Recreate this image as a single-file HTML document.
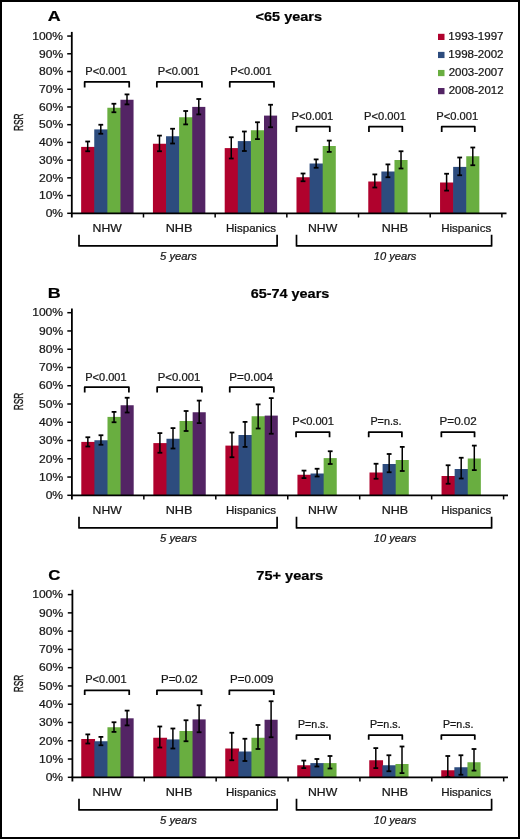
<!DOCTYPE html>
<html><head><meta charset="utf-8"><style>
html,body{margin:0;padding:0;background:#fff;}
body{width:520px;height:839px;overflow:hidden;}
.frame{position:absolute;left:0;top:0;width:516px;height:835px;border:2px solid #000;background:#fff;}
svg{position:absolute;left:0;top:0;will-change:transform;}
text{font-family:"Liberation Sans",sans-serif;}
</style></head><body>
<div class="frame"></div>
<svg width="520" height="839" viewBox="0 0 520 839">
<text transform="translate(47.85,20.80) scale(1.280,1)" font-size="14" font-weight="bold" font-style="normal" fill="#000" stroke="#000" stroke-width="0.195">A</text>
<text transform="translate(255.62,21.20) scale(1.187,1)" font-size="12.2" font-weight="bold" font-style="normal" fill="#000" stroke="#000" stroke-width="0.211">&lt;65 years</text>
<rect x="81.15" y="146.90" width="13.80" height="66.40" fill="#B0022D"/>
<rect x="94.25" y="129.40" width="13.80" height="83.90" fill="#2D4C7E"/>
<rect x="107.35" y="107.75" width="13.80" height="105.55" fill="#69AE40"/>
<rect x="120.45" y="99.75" width="13.10" height="113.55" fill="#532464"/>
<rect x="152.93" y="143.75" width="13.80" height="69.55" fill="#B0022D"/>
<rect x="166.03" y="136.25" width="13.80" height="77.05" fill="#2D4C7E"/>
<rect x="179.13" y="117.25" width="13.80" height="96.05" fill="#69AE40"/>
<rect x="192.23" y="106.90" width="13.10" height="106.40" fill="#532464"/>
<rect x="224.71" y="148.10" width="13.80" height="65.20" fill="#B0022D"/>
<rect x="237.81" y="141.10" width="13.80" height="72.20" fill="#2D4C7E"/>
<rect x="250.91" y="130.25" width="13.80" height="83.05" fill="#69AE40"/>
<rect x="264.01" y="115.60" width="13.10" height="97.70" fill="#532464"/>
<rect x="296.49" y="177.25" width="13.80" height="36.05" fill="#B0022D"/>
<rect x="309.59" y="163.50" width="13.80" height="49.80" fill="#2D4C7E"/>
<rect x="322.69" y="146.00" width="13.10" height="67.30" fill="#69AE40"/>
<rect x="368.27" y="181.50" width="13.80" height="31.80" fill="#B0022D"/>
<rect x="381.37" y="171.50" width="13.80" height="41.80" fill="#2D4C7E"/>
<rect x="394.47" y="160.00" width="13.10" height="53.30" fill="#69AE40"/>
<rect x="440.05" y="182.50" width="13.80" height="30.80" fill="#B0022D"/>
<rect x="453.15" y="166.90" width="13.80" height="46.40" fill="#2D4C7E"/>
<rect x="466.25" y="156.25" width="13.10" height="57.05" fill="#69AE40"/>
<line x1="87.70" y1="141.50" x2="87.70" y2="151.25" stroke="#000" stroke-width="1.5"/>
<line x1="85.30" y1="141.50" x2="90.10" y2="141.50" stroke="#000" stroke-width="1.8"/>
<line x1="85.30" y1="151.25" x2="90.10" y2="151.25" stroke="#000" stroke-width="1.8"/>
<line x1="100.80" y1="124.75" x2="100.80" y2="133.75" stroke="#000" stroke-width="1.5"/>
<line x1="98.40" y1="124.75" x2="103.20" y2="124.75" stroke="#000" stroke-width="1.8"/>
<line x1="98.40" y1="133.75" x2="103.20" y2="133.75" stroke="#000" stroke-width="1.8"/>
<line x1="113.90" y1="103.75" x2="113.90" y2="112.25" stroke="#000" stroke-width="1.5"/>
<line x1="111.50" y1="103.75" x2="116.30" y2="103.75" stroke="#000" stroke-width="1.8"/>
<line x1="111.50" y1="112.25" x2="116.30" y2="112.25" stroke="#000" stroke-width="1.8"/>
<line x1="127.00" y1="94.40" x2="127.00" y2="104.40" stroke="#000" stroke-width="1.5"/>
<line x1="124.60" y1="94.40" x2="129.40" y2="94.40" stroke="#000" stroke-width="1.8"/>
<line x1="124.60" y1="104.40" x2="129.40" y2="104.40" stroke="#000" stroke-width="1.8"/>
<line x1="159.48" y1="135.60" x2="159.48" y2="151.25" stroke="#000" stroke-width="1.5"/>
<line x1="157.08" y1="135.60" x2="161.88" y2="135.60" stroke="#000" stroke-width="1.8"/>
<line x1="157.08" y1="151.25" x2="161.88" y2="151.25" stroke="#000" stroke-width="1.8"/>
<line x1="172.58" y1="128.75" x2="172.58" y2="143.50" stroke="#000" stroke-width="1.5"/>
<line x1="170.18" y1="128.75" x2="174.98" y2="128.75" stroke="#000" stroke-width="1.8"/>
<line x1="170.18" y1="143.50" x2="174.98" y2="143.50" stroke="#000" stroke-width="1.8"/>
<line x1="185.68" y1="111.00" x2="185.68" y2="124.40" stroke="#000" stroke-width="1.5"/>
<line x1="183.28" y1="111.00" x2="188.08" y2="111.00" stroke="#000" stroke-width="1.8"/>
<line x1="183.28" y1="124.40" x2="188.08" y2="124.40" stroke="#000" stroke-width="1.8"/>
<line x1="198.78" y1="99.00" x2="198.78" y2="114.40" stroke="#000" stroke-width="1.5"/>
<line x1="196.38" y1="99.00" x2="201.18" y2="99.00" stroke="#000" stroke-width="1.8"/>
<line x1="196.38" y1="114.40" x2="201.18" y2="114.40" stroke="#000" stroke-width="1.8"/>
<line x1="231.26" y1="137.25" x2="231.26" y2="158.50" stroke="#000" stroke-width="1.5"/>
<line x1="228.86" y1="137.25" x2="233.66" y2="137.25" stroke="#000" stroke-width="1.8"/>
<line x1="228.86" y1="158.50" x2="233.66" y2="158.50" stroke="#000" stroke-width="1.8"/>
<line x1="244.36" y1="131.50" x2="244.36" y2="151.00" stroke="#000" stroke-width="1.5"/>
<line x1="241.96" y1="131.50" x2="246.76" y2="131.50" stroke="#000" stroke-width="1.8"/>
<line x1="241.96" y1="151.00" x2="246.76" y2="151.00" stroke="#000" stroke-width="1.8"/>
<line x1="257.46" y1="122.25" x2="257.46" y2="139.10" stroke="#000" stroke-width="1.5"/>
<line x1="255.06" y1="122.25" x2="259.86" y2="122.25" stroke="#000" stroke-width="1.8"/>
<line x1="255.06" y1="139.10" x2="259.86" y2="139.10" stroke="#000" stroke-width="1.8"/>
<line x1="270.56" y1="104.75" x2="270.56" y2="127.25" stroke="#000" stroke-width="1.5"/>
<line x1="268.16" y1="104.75" x2="272.96" y2="104.75" stroke="#000" stroke-width="1.8"/>
<line x1="268.16" y1="127.25" x2="272.96" y2="127.25" stroke="#000" stroke-width="1.8"/>
<line x1="303.04" y1="173.50" x2="303.04" y2="181.25" stroke="#000" stroke-width="1.5"/>
<line x1="300.64" y1="173.50" x2="305.44" y2="173.50" stroke="#000" stroke-width="1.8"/>
<line x1="300.64" y1="181.25" x2="305.44" y2="181.25" stroke="#000" stroke-width="1.8"/>
<line x1="316.14" y1="159.40" x2="316.14" y2="167.75" stroke="#000" stroke-width="1.5"/>
<line x1="313.74" y1="159.40" x2="318.54" y2="159.40" stroke="#000" stroke-width="1.8"/>
<line x1="313.74" y1="167.75" x2="318.54" y2="167.75" stroke="#000" stroke-width="1.8"/>
<line x1="329.24" y1="140.60" x2="329.24" y2="151.90" stroke="#000" stroke-width="1.5"/>
<line x1="326.84" y1="140.60" x2="331.64" y2="140.60" stroke="#000" stroke-width="1.8"/>
<line x1="326.84" y1="151.90" x2="331.64" y2="151.90" stroke="#000" stroke-width="1.8"/>
<line x1="374.82" y1="174.40" x2="374.82" y2="187.50" stroke="#000" stroke-width="1.5"/>
<line x1="372.42" y1="174.40" x2="377.22" y2="174.40" stroke="#000" stroke-width="1.8"/>
<line x1="372.42" y1="187.50" x2="377.22" y2="187.50" stroke="#000" stroke-width="1.8"/>
<line x1="387.92" y1="164.40" x2="387.92" y2="177.25" stroke="#000" stroke-width="1.5"/>
<line x1="385.52" y1="164.40" x2="390.32" y2="164.40" stroke="#000" stroke-width="1.8"/>
<line x1="385.52" y1="177.25" x2="390.32" y2="177.25" stroke="#000" stroke-width="1.8"/>
<line x1="401.02" y1="151.25" x2="401.02" y2="168.50" stroke="#000" stroke-width="1.5"/>
<line x1="398.62" y1="151.25" x2="403.42" y2="151.25" stroke="#000" stroke-width="1.8"/>
<line x1="398.62" y1="168.50" x2="403.42" y2="168.50" stroke="#000" stroke-width="1.8"/>
<line x1="446.60" y1="173.75" x2="446.60" y2="190.60" stroke="#000" stroke-width="1.5"/>
<line x1="444.20" y1="173.75" x2="449.00" y2="173.75" stroke="#000" stroke-width="1.8"/>
<line x1="444.20" y1="190.60" x2="449.00" y2="190.60" stroke="#000" stroke-width="1.8"/>
<line x1="459.70" y1="157.50" x2="459.70" y2="175.25" stroke="#000" stroke-width="1.5"/>
<line x1="457.30" y1="157.50" x2="462.10" y2="157.50" stroke="#000" stroke-width="1.8"/>
<line x1="457.30" y1="175.25" x2="462.10" y2="175.25" stroke="#000" stroke-width="1.8"/>
<line x1="472.80" y1="147.50" x2="472.80" y2="165.25" stroke="#000" stroke-width="1.5"/>
<line x1="470.40" y1="147.50" x2="475.20" y2="147.50" stroke="#000" stroke-width="1.8"/>
<line x1="470.40" y1="165.25" x2="475.20" y2="165.25" stroke="#000" stroke-width="1.8"/>
<line x1="71.80" y1="31.90" x2="71.80" y2="217.50" stroke="#000" stroke-width="1.8"/>
<line x1="70.90" y1="213.30" x2="506.50" y2="213.30" stroke="#000" stroke-width="1.8"/>
<line x1="67.20" y1="213.30" x2="71.80" y2="213.30" stroke="#000" stroke-width="1.5"/>
<text transform="translate(45.67,217.05) scale(1.150,1)" font-size="10.5" font-weight="normal" font-style="normal" fill="#161616" stroke="#161616" stroke-width="0.217">0%</text>
<line x1="67.20" y1="195.58" x2="71.80" y2="195.58" stroke="#000" stroke-width="1.5"/>
<text transform="translate(38.97,199.33) scale(1.150,1)" font-size="10.5" font-weight="normal" font-style="normal" fill="#161616" stroke="#161616" stroke-width="0.217">10%</text>
<line x1="67.20" y1="177.85" x2="71.80" y2="177.85" stroke="#000" stroke-width="1.5"/>
<text transform="translate(38.97,181.60) scale(1.150,1)" font-size="10.5" font-weight="normal" font-style="normal" fill="#161616" stroke="#161616" stroke-width="0.217">20%</text>
<line x1="67.20" y1="160.13" x2="71.80" y2="160.13" stroke="#000" stroke-width="1.5"/>
<text transform="translate(38.97,163.88) scale(1.150,1)" font-size="10.5" font-weight="normal" font-style="normal" fill="#161616" stroke="#161616" stroke-width="0.217">30%</text>
<line x1="67.20" y1="142.40" x2="71.80" y2="142.40" stroke="#000" stroke-width="1.5"/>
<text transform="translate(38.97,146.15) scale(1.150,1)" font-size="10.5" font-weight="normal" font-style="normal" fill="#161616" stroke="#161616" stroke-width="0.217">40%</text>
<line x1="67.20" y1="124.68" x2="71.80" y2="124.68" stroke="#000" stroke-width="1.5"/>
<text transform="translate(38.97,128.43) scale(1.150,1)" font-size="10.5" font-weight="normal" font-style="normal" fill="#161616" stroke="#161616" stroke-width="0.217">50%</text>
<line x1="67.20" y1="106.96" x2="71.80" y2="106.96" stroke="#000" stroke-width="1.5"/>
<text transform="translate(38.97,110.71) scale(1.150,1)" font-size="10.5" font-weight="normal" font-style="normal" fill="#161616" stroke="#161616" stroke-width="0.217">60%</text>
<line x1="67.20" y1="89.23" x2="71.80" y2="89.23" stroke="#000" stroke-width="1.5"/>
<text transform="translate(38.97,92.98) scale(1.150,1)" font-size="10.5" font-weight="normal" font-style="normal" fill="#161616" stroke="#161616" stroke-width="0.217">70%</text>
<line x1="67.20" y1="71.51" x2="71.80" y2="71.51" stroke="#000" stroke-width="1.5"/>
<text transform="translate(38.97,75.26) scale(1.150,1)" font-size="10.5" font-weight="normal" font-style="normal" fill="#161616" stroke="#161616" stroke-width="0.217">80%</text>
<line x1="67.20" y1="53.78" x2="71.80" y2="53.78" stroke="#000" stroke-width="1.5"/>
<text transform="translate(38.97,57.53) scale(1.150,1)" font-size="10.5" font-weight="normal" font-style="normal" fill="#161616" stroke="#161616" stroke-width="0.217">90%</text>
<line x1="67.20" y1="36.06" x2="71.80" y2="36.06" stroke="#000" stroke-width="1.5"/>
<text transform="translate(32.21,39.81) scale(1.150,1)" font-size="10.5" font-weight="normal" font-style="normal" fill="#161616" stroke="#161616" stroke-width="0.217">100%</text>
<line x1="143.48" y1="213.30" x2="143.48" y2="217.50" stroke="#000" stroke-width="1.5"/>
<line x1="215.16" y1="213.30" x2="215.16" y2="217.50" stroke="#000" stroke-width="1.5"/>
<line x1="286.84" y1="213.30" x2="286.84" y2="217.50" stroke="#000" stroke-width="1.5"/>
<line x1="358.52" y1="213.30" x2="358.52" y2="217.50" stroke="#000" stroke-width="1.5"/>
<line x1="430.20" y1="213.30" x2="430.20" y2="217.50" stroke="#000" stroke-width="1.5"/>
<line x1="501.88" y1="213.30" x2="501.88" y2="217.50" stroke="#000" stroke-width="1.5"/>
<text transform="translate(23.3,122.30) rotate(-90) scale(0.63,1)" font-size="13.2" text-anchor="middle" fill="#161616" stroke="#161616" stroke-width="0.4">RSR</text>
<text transform="translate(92.62,231.90) scale(1.163,1)" font-size="10.5" font-weight="normal" font-style="normal" fill="#161616" stroke="#161616" stroke-width="0.215">NHW</text>
<text transform="translate(165.69,231.90) scale(1.207,1)" font-size="10.5" font-weight="normal" font-style="normal" fill="#161616" stroke="#161616" stroke-width="0.207">NHB</text>
<text transform="translate(225.97,231.90) scale(1.104,1)" font-size="10.5" font-weight="normal" font-style="normal" fill="#161616" stroke="#161616" stroke-width="0.227">Hispanics</text>
<text transform="translate(308.02,231.90) scale(1.167,1)" font-size="10.5" font-weight="normal" font-style="normal" fill="#161616" stroke="#161616" stroke-width="0.214">NHW</text>
<text transform="translate(381.80,231.90) scale(1.188,1)" font-size="10.5" font-weight="normal" font-style="normal" fill="#161616" stroke="#161616" stroke-width="0.210">NHB</text>
<text transform="translate(441.17,231.90) scale(1.101,1)" font-size="10.5" font-weight="normal" font-style="normal" fill="#161616" stroke="#161616" stroke-width="0.227">Hispanics</text>
<path d="M79,234.70 V245.90 H277.1 V234.70" fill="none" stroke="#000" stroke-width="1.7" stroke-linejoin="round"/>
<path d="M296.5,234.70 V245.90 H491.6 V234.70" fill="none" stroke="#000" stroke-width="1.7" stroke-linejoin="round"/>
<text transform="translate(160.08,260.30) scale(1.067,1)" font-size="10.5" font-weight="normal" font-style="italic" fill="#161616" stroke="#161616" stroke-width="0.234">5 years</text>
<text transform="translate(373.82,260.40) scale(1.060,1)" font-size="10.5" font-weight="normal" font-style="italic" fill="#161616" stroke="#161616" stroke-width="0.236">10 years</text>
<text transform="translate(85.32,74.80) scale(1.074,1)" font-size="10.3" font-weight="normal" font-style="normal" fill="#161616" stroke="#161616" stroke-width="0.233">P&lt;0.001</text>
<path d="M84.65,87.40 V81.90 H129.20 V87.40" fill="none" stroke="#000" stroke-width="1.75" stroke-linejoin="round"/>
<text transform="translate(157.71,74.80) scale(1.082,1)" font-size="10.3" font-weight="normal" font-style="normal" fill="#161616" stroke="#161616" stroke-width="0.231">P&lt;0.001</text>
<path d="M156.85,87.40 V81.90 H201.90 V87.40" fill="none" stroke="#000" stroke-width="1.75" stroke-linejoin="round"/>
<text transform="translate(230.27,74.80) scale(1.071,1)" font-size="10.3" font-weight="normal" font-style="normal" fill="#161616" stroke="#161616" stroke-width="0.233">P&lt;0.001</text>
<path d="M229.75,87.40 V81.90 H274.00 V87.40" fill="none" stroke="#000" stroke-width="1.75" stroke-linejoin="round"/>
<text transform="translate(291.51,120.00) scale(1.082,1)" font-size="10.3" font-weight="normal" font-style="normal" fill="#161616" stroke="#161616" stroke-width="0.231">P&lt;0.001</text>
<path d="M296.45,132.00 V126.70 H329.80 V132.00" fill="none" stroke="#000" stroke-width="1.75" stroke-linejoin="round"/>
<text transform="translate(364.11,120.00) scale(1.082,1)" font-size="10.3" font-weight="normal" font-style="normal" fill="#161616" stroke="#161616" stroke-width="0.231">P&lt;0.001</text>
<path d="M368.95,132.00 V126.70 H402.30 V132.00" fill="none" stroke="#000" stroke-width="1.75" stroke-linejoin="round"/>
<text transform="translate(436.31,120.00) scale(1.082,1)" font-size="10.3" font-weight="normal" font-style="normal" fill="#161616" stroke="#161616" stroke-width="0.231">P&lt;0.001</text>
<path d="M441.70,132.00 V126.70 H474.80 V132.00" fill="none" stroke="#000" stroke-width="1.75" stroke-linejoin="round"/>
<rect x="438.00" y="33.80" width="6.50" height="6.20" fill="#B0022D"/>
<text transform="translate(448.33,39.90) scale(1.100,1)" font-size="10.5" font-weight="normal" font-style="normal" fill="#161616" stroke="#161616" stroke-width="0.227">1993-1997</text>
<rect x="438.00" y="51.87" width="6.50" height="6.20" fill="#2D4C7E"/>
<text transform="translate(448.33,57.97) scale(1.100,1)" font-size="10.5" font-weight="normal" font-style="normal" fill="#161616" stroke="#161616" stroke-width="0.227">1998-2002</text>
<rect x="438.00" y="69.94" width="6.50" height="6.20" fill="#69AE40"/>
<text transform="translate(448.63,76.04) scale(1.094,1)" font-size="10.5" font-weight="normal" font-style="normal" fill="#161616" stroke="#161616" stroke-width="0.229">2003-2007</text>
<rect x="438.00" y="88.01" width="6.50" height="6.20" fill="#532464"/>
<text transform="translate(448.63,94.11) scale(1.094,1)" font-size="10.5" font-weight="normal" font-style="normal" fill="#161616" stroke="#161616" stroke-width="0.229">2008-2012</text>
<text transform="translate(47.84,298.30) scale(1.278,1)" font-size="14" font-weight="bold" font-style="normal" fill="#000" stroke="#000" stroke-width="0.196">B</text>
<text transform="translate(250.64,297.70) scale(1.184,1)" font-size="12.2" font-weight="bold" font-style="normal" fill="#000" stroke="#000" stroke-width="0.211">65-74 years</text>
<rect x="81.30" y="441.90" width="13.80" height="53.40" fill="#B0022D"/>
<rect x="94.40" y="440.25" width="13.80" height="55.05" fill="#2D4C7E"/>
<rect x="107.50" y="416.90" width="13.80" height="78.40" fill="#69AE40"/>
<rect x="120.60" y="405.25" width="13.10" height="90.05" fill="#532464"/>
<rect x="153.35" y="443.10" width="13.80" height="52.20" fill="#B0022D"/>
<rect x="166.45" y="438.75" width="13.80" height="56.55" fill="#2D4C7E"/>
<rect x="179.55" y="421.00" width="13.80" height="74.30" fill="#69AE40"/>
<rect x="192.65" y="412.25" width="13.10" height="83.05" fill="#532464"/>
<rect x="225.40" y="445.60" width="13.80" height="49.70" fill="#B0022D"/>
<rect x="238.50" y="435.00" width="13.80" height="60.30" fill="#2D4C7E"/>
<rect x="251.60" y="416.25" width="13.80" height="79.05" fill="#69AE40"/>
<rect x="264.70" y="415.60" width="13.10" height="79.70" fill="#532464"/>
<rect x="297.45" y="474.75" width="13.80" height="20.55" fill="#B0022D"/>
<rect x="310.55" y="473.50" width="13.80" height="21.80" fill="#2D4C7E"/>
<rect x="323.65" y="458.10" width="13.10" height="37.20" fill="#69AE40"/>
<rect x="369.50" y="472.50" width="13.80" height="22.80" fill="#B0022D"/>
<rect x="382.60" y="464.00" width="13.80" height="31.30" fill="#2D4C7E"/>
<rect x="395.70" y="460.00" width="13.10" height="35.30" fill="#69AE40"/>
<rect x="441.55" y="476.00" width="13.80" height="19.30" fill="#B0022D"/>
<rect x="454.65" y="469.00" width="13.80" height="26.30" fill="#2D4C7E"/>
<rect x="467.75" y="458.50" width="13.10" height="36.80" fill="#69AE40"/>
<line x1="87.85" y1="437.25" x2="87.85" y2="446.50" stroke="#000" stroke-width="1.5"/>
<line x1="85.45" y1="437.25" x2="90.25" y2="437.25" stroke="#000" stroke-width="1.8"/>
<line x1="85.45" y1="446.50" x2="90.25" y2="446.50" stroke="#000" stroke-width="1.8"/>
<line x1="100.95" y1="435.25" x2="100.95" y2="444.75" stroke="#000" stroke-width="1.5"/>
<line x1="98.55" y1="435.25" x2="103.35" y2="435.25" stroke="#000" stroke-width="1.8"/>
<line x1="98.55" y1="444.75" x2="103.35" y2="444.75" stroke="#000" stroke-width="1.8"/>
<line x1="114.05" y1="411.90" x2="114.05" y2="422.25" stroke="#000" stroke-width="1.5"/>
<line x1="111.65" y1="411.90" x2="116.45" y2="411.90" stroke="#000" stroke-width="1.8"/>
<line x1="111.65" y1="422.25" x2="116.45" y2="422.25" stroke="#000" stroke-width="1.8"/>
<line x1="127.15" y1="397.75" x2="127.15" y2="412.50" stroke="#000" stroke-width="1.5"/>
<line x1="124.75" y1="397.75" x2="129.55" y2="397.75" stroke="#000" stroke-width="1.8"/>
<line x1="124.75" y1="412.50" x2="129.55" y2="412.50" stroke="#000" stroke-width="1.8"/>
<line x1="159.90" y1="433.10" x2="159.90" y2="452.75" stroke="#000" stroke-width="1.5"/>
<line x1="157.50" y1="433.10" x2="162.30" y2="433.10" stroke="#000" stroke-width="1.8"/>
<line x1="157.50" y1="452.75" x2="162.30" y2="452.75" stroke="#000" stroke-width="1.8"/>
<line x1="173.00" y1="428.10" x2="173.00" y2="448.50" stroke="#000" stroke-width="1.5"/>
<line x1="170.60" y1="428.10" x2="175.40" y2="428.10" stroke="#000" stroke-width="1.8"/>
<line x1="170.60" y1="448.50" x2="175.40" y2="448.50" stroke="#000" stroke-width="1.8"/>
<line x1="186.10" y1="411.00" x2="186.10" y2="431.00" stroke="#000" stroke-width="1.5"/>
<line x1="183.70" y1="411.00" x2="188.50" y2="411.00" stroke="#000" stroke-width="1.8"/>
<line x1="183.70" y1="431.00" x2="188.50" y2="431.00" stroke="#000" stroke-width="1.8"/>
<line x1="199.20" y1="400.60" x2="199.20" y2="423.10" stroke="#000" stroke-width="1.5"/>
<line x1="196.80" y1="400.60" x2="201.60" y2="400.60" stroke="#000" stroke-width="1.8"/>
<line x1="196.80" y1="423.10" x2="201.60" y2="423.10" stroke="#000" stroke-width="1.8"/>
<line x1="231.95" y1="432.50" x2="231.95" y2="457.25" stroke="#000" stroke-width="1.5"/>
<line x1="229.55" y1="432.50" x2="234.35" y2="432.50" stroke="#000" stroke-width="1.8"/>
<line x1="229.55" y1="457.25" x2="234.35" y2="457.25" stroke="#000" stroke-width="1.8"/>
<line x1="245.05" y1="421.90" x2="245.05" y2="446.90" stroke="#000" stroke-width="1.5"/>
<line x1="242.65" y1="421.90" x2="247.45" y2="421.90" stroke="#000" stroke-width="1.8"/>
<line x1="242.65" y1="446.90" x2="247.45" y2="446.90" stroke="#000" stroke-width="1.8"/>
<line x1="258.15" y1="404.40" x2="258.15" y2="428.50" stroke="#000" stroke-width="1.5"/>
<line x1="255.75" y1="404.40" x2="260.55" y2="404.40" stroke="#000" stroke-width="1.8"/>
<line x1="255.75" y1="428.50" x2="260.55" y2="428.50" stroke="#000" stroke-width="1.8"/>
<line x1="271.25" y1="398.10" x2="271.25" y2="433.75" stroke="#000" stroke-width="1.5"/>
<line x1="268.85" y1="398.10" x2="273.65" y2="398.10" stroke="#000" stroke-width="1.8"/>
<line x1="268.85" y1="433.75" x2="273.65" y2="433.75" stroke="#000" stroke-width="1.8"/>
<line x1="304.00" y1="470.60" x2="304.00" y2="478.10" stroke="#000" stroke-width="1.5"/>
<line x1="301.60" y1="470.60" x2="306.40" y2="470.60" stroke="#000" stroke-width="1.8"/>
<line x1="301.60" y1="478.10" x2="306.40" y2="478.10" stroke="#000" stroke-width="1.8"/>
<line x1="317.10" y1="468.75" x2="317.10" y2="476.50" stroke="#000" stroke-width="1.5"/>
<line x1="314.70" y1="468.75" x2="319.50" y2="468.75" stroke="#000" stroke-width="1.8"/>
<line x1="314.70" y1="476.50" x2="319.50" y2="476.50" stroke="#000" stroke-width="1.8"/>
<line x1="330.20" y1="451.25" x2="330.20" y2="464.00" stroke="#000" stroke-width="1.5"/>
<line x1="327.80" y1="451.25" x2="332.60" y2="451.25" stroke="#000" stroke-width="1.8"/>
<line x1="327.80" y1="464.00" x2="332.60" y2="464.00" stroke="#000" stroke-width="1.8"/>
<line x1="376.05" y1="463.75" x2="376.05" y2="478.75" stroke="#000" stroke-width="1.5"/>
<line x1="373.65" y1="463.75" x2="378.45" y2="463.75" stroke="#000" stroke-width="1.8"/>
<line x1="373.65" y1="478.75" x2="378.45" y2="478.75" stroke="#000" stroke-width="1.8"/>
<line x1="389.15" y1="454.00" x2="389.15" y2="472.25" stroke="#000" stroke-width="1.5"/>
<line x1="386.75" y1="454.00" x2="391.55" y2="454.00" stroke="#000" stroke-width="1.8"/>
<line x1="386.75" y1="472.25" x2="391.55" y2="472.25" stroke="#000" stroke-width="1.8"/>
<line x1="402.25" y1="446.90" x2="402.25" y2="471.00" stroke="#000" stroke-width="1.5"/>
<line x1="399.85" y1="446.90" x2="404.65" y2="446.90" stroke="#000" stroke-width="1.8"/>
<line x1="399.85" y1="471.00" x2="404.65" y2="471.00" stroke="#000" stroke-width="1.8"/>
<line x1="448.10" y1="465.25" x2="448.10" y2="483.75" stroke="#000" stroke-width="1.5"/>
<line x1="445.70" y1="465.25" x2="450.50" y2="465.25" stroke="#000" stroke-width="1.8"/>
<line x1="445.70" y1="483.75" x2="450.50" y2="483.75" stroke="#000" stroke-width="1.8"/>
<line x1="461.20" y1="457.75" x2="461.20" y2="478.50" stroke="#000" stroke-width="1.5"/>
<line x1="458.80" y1="457.75" x2="463.60" y2="457.75" stroke="#000" stroke-width="1.8"/>
<line x1="458.80" y1="478.50" x2="463.60" y2="478.50" stroke="#000" stroke-width="1.8"/>
<line x1="474.30" y1="445.60" x2="474.30" y2="470.10" stroke="#000" stroke-width="1.5"/>
<line x1="471.90" y1="445.60" x2="476.70" y2="445.60" stroke="#000" stroke-width="1.8"/>
<line x1="471.90" y1="470.10" x2="476.70" y2="470.10" stroke="#000" stroke-width="1.8"/>
<line x1="71.90" y1="308.50" x2="71.90" y2="499.50" stroke="#000" stroke-width="1.8"/>
<line x1="71.00" y1="495.30" x2="508.00" y2="495.30" stroke="#000" stroke-width="1.8"/>
<line x1="67.30" y1="495.30" x2="71.90" y2="495.30" stroke="#000" stroke-width="1.5"/>
<text transform="translate(45.67,499.05) scale(1.150,1)" font-size="10.5" font-weight="normal" font-style="normal" fill="#161616" stroke="#161616" stroke-width="0.217">0%</text>
<line x1="67.30" y1="477.04" x2="71.90" y2="477.04" stroke="#000" stroke-width="1.5"/>
<text transform="translate(38.97,480.79) scale(1.150,1)" font-size="10.5" font-weight="normal" font-style="normal" fill="#161616" stroke="#161616" stroke-width="0.217">10%</text>
<line x1="67.30" y1="458.78" x2="71.90" y2="458.78" stroke="#000" stroke-width="1.5"/>
<text transform="translate(38.97,462.53) scale(1.150,1)" font-size="10.5" font-weight="normal" font-style="normal" fill="#161616" stroke="#161616" stroke-width="0.217">20%</text>
<line x1="67.30" y1="440.52" x2="71.90" y2="440.52" stroke="#000" stroke-width="1.5"/>
<text transform="translate(38.97,444.27) scale(1.150,1)" font-size="10.5" font-weight="normal" font-style="normal" fill="#161616" stroke="#161616" stroke-width="0.217">30%</text>
<line x1="67.30" y1="422.26" x2="71.90" y2="422.26" stroke="#000" stroke-width="1.5"/>
<text transform="translate(38.97,426.01) scale(1.150,1)" font-size="10.5" font-weight="normal" font-style="normal" fill="#161616" stroke="#161616" stroke-width="0.217">40%</text>
<line x1="67.30" y1="404.00" x2="71.90" y2="404.00" stroke="#000" stroke-width="1.5"/>
<text transform="translate(38.97,407.75) scale(1.150,1)" font-size="10.5" font-weight="normal" font-style="normal" fill="#161616" stroke="#161616" stroke-width="0.217">50%</text>
<line x1="67.30" y1="385.74" x2="71.90" y2="385.74" stroke="#000" stroke-width="1.5"/>
<text transform="translate(38.97,389.49) scale(1.150,1)" font-size="10.5" font-weight="normal" font-style="normal" fill="#161616" stroke="#161616" stroke-width="0.217">60%</text>
<line x1="67.30" y1="367.48" x2="71.90" y2="367.48" stroke="#000" stroke-width="1.5"/>
<text transform="translate(38.97,371.23) scale(1.150,1)" font-size="10.5" font-weight="normal" font-style="normal" fill="#161616" stroke="#161616" stroke-width="0.217">70%</text>
<line x1="67.30" y1="349.22" x2="71.90" y2="349.22" stroke="#000" stroke-width="1.5"/>
<text transform="translate(38.97,352.97) scale(1.150,1)" font-size="10.5" font-weight="normal" font-style="normal" fill="#161616" stroke="#161616" stroke-width="0.217">80%</text>
<line x1="67.30" y1="330.96" x2="71.90" y2="330.96" stroke="#000" stroke-width="1.5"/>
<text transform="translate(38.97,334.71) scale(1.150,1)" font-size="10.5" font-weight="normal" font-style="normal" fill="#161616" stroke="#161616" stroke-width="0.217">90%</text>
<line x1="67.30" y1="312.70" x2="71.90" y2="312.70" stroke="#000" stroke-width="1.5"/>
<text transform="translate(32.21,316.45) scale(1.150,1)" font-size="10.5" font-weight="normal" font-style="normal" fill="#161616" stroke="#161616" stroke-width="0.217">100%</text>
<line x1="143.85" y1="495.30" x2="143.85" y2="499.50" stroke="#000" stroke-width="1.5"/>
<line x1="215.80" y1="495.30" x2="215.80" y2="499.50" stroke="#000" stroke-width="1.5"/>
<line x1="287.75" y1="495.30" x2="287.75" y2="499.50" stroke="#000" stroke-width="1.5"/>
<line x1="359.70" y1="495.30" x2="359.70" y2="499.50" stroke="#000" stroke-width="1.5"/>
<line x1="431.65" y1="495.30" x2="431.65" y2="499.50" stroke="#000" stroke-width="1.5"/>
<line x1="503.60" y1="495.30" x2="503.60" y2="499.50" stroke="#000" stroke-width="1.5"/>
<text transform="translate(23.3,401.50) rotate(-90) scale(0.63,1)" font-size="13.2" text-anchor="middle" fill="#161616" stroke="#161616" stroke-width="0.4">RSR</text>
<text transform="translate(92.62,513.90) scale(1.163,1)" font-size="10.5" font-weight="normal" font-style="normal" fill="#161616" stroke="#161616" stroke-width="0.215">NHW</text>
<text transform="translate(165.69,513.90) scale(1.207,1)" font-size="10.5" font-weight="normal" font-style="normal" fill="#161616" stroke="#161616" stroke-width="0.207">NHB</text>
<text transform="translate(225.97,513.90) scale(1.104,1)" font-size="10.5" font-weight="normal" font-style="normal" fill="#161616" stroke="#161616" stroke-width="0.227">Hispanics</text>
<text transform="translate(308.02,513.90) scale(1.167,1)" font-size="10.5" font-weight="normal" font-style="normal" fill="#161616" stroke="#161616" stroke-width="0.214">NHW</text>
<text transform="translate(381.80,513.90) scale(1.188,1)" font-size="10.5" font-weight="normal" font-style="normal" fill="#161616" stroke="#161616" stroke-width="0.210">NHB</text>
<text transform="translate(441.17,513.90) scale(1.101,1)" font-size="10.5" font-weight="normal" font-style="normal" fill="#161616" stroke="#161616" stroke-width="0.227">Hispanics</text>
<path d="M79,516.70 V527.90 H277.1 V516.70" fill="none" stroke="#000" stroke-width="1.7" stroke-linejoin="round"/>
<path d="M296.5,516.70 V527.90 H491.6 V516.70" fill="none" stroke="#000" stroke-width="1.7" stroke-linejoin="round"/>
<text transform="translate(160.08,542.30) scale(1.067,1)" font-size="10.5" font-weight="normal" font-style="italic" fill="#161616" stroke="#161616" stroke-width="0.234">5 years</text>
<text transform="translate(373.82,542.40) scale(1.060,1)" font-size="10.5" font-weight="normal" font-style="italic" fill="#161616" stroke="#161616" stroke-width="0.236">10 years</text>
<text transform="translate(85.22,381.00) scale(1.071,1)" font-size="10.3" font-weight="normal" font-style="normal" fill="#161616" stroke="#161616" stroke-width="0.233">P&lt;0.001</text>
<path d="M84.70,392.40 V387.00 H128.90 V392.40" fill="none" stroke="#000" stroke-width="1.75" stroke-linejoin="round"/>
<text transform="translate(157.69,381.00) scale(1.106,1)" font-size="10.3" font-weight="normal" font-style="normal" fill="#161616" stroke="#161616" stroke-width="0.226">P&lt;0.001</text>
<path d="M157.15,392.40 V387.00 H201.90 V392.40" fill="none" stroke="#000" stroke-width="1.75" stroke-linejoin="round"/>
<text transform="translate(229.37,381.00) scale(1.127,1)" font-size="10.3" font-weight="normal" font-style="normal" fill="#161616" stroke="#161616" stroke-width="0.222">P=0.004</text>
<path d="M229.75,392.40 V387.00 H273.90 V392.40" fill="none" stroke="#000" stroke-width="1.75" stroke-linejoin="round"/>
<text transform="translate(292.21,425.00) scale(1.082,1)" font-size="10.3" font-weight="normal" font-style="normal" fill="#161616" stroke="#161616" stroke-width="0.231">P&lt;0.001</text>
<path d="M296.05,437.30 V432.00 H329.55 V437.30" fill="none" stroke="#000" stroke-width="1.75" stroke-linejoin="round"/>
<text transform="translate(370.38,425.00) scale(1.054,1)" font-size="10.3" font-weight="normal" font-style="normal" fill="#161616" stroke="#161616" stroke-width="0.237">P=n.s.</text>
<path d="M368.70,437.30 V432.00 H401.90 V437.30" fill="none" stroke="#000" stroke-width="1.75" stroke-linejoin="round"/>
<text transform="translate(439.57,425.00) scale(1.131,1)" font-size="10.3" font-weight="normal" font-style="normal" fill="#161616" stroke="#161616" stroke-width="0.221">P=0.02</text>
<path d="M441.35,437.30 V432.00 H474.55 V437.30" fill="none" stroke="#000" stroke-width="1.75" stroke-linejoin="round"/>
<text transform="translate(48.33,580.20) scale(1.200,1)" font-size="14" font-weight="bold" font-style="normal" fill="#000" stroke="#000" stroke-width="0.208">C</text>
<text transform="translate(256.32,579.80) scale(1.196,1)" font-size="12.2" font-weight="bold" font-style="normal" fill="#000" stroke="#000" stroke-width="0.209">75+ years</text>
<rect x="81.25" y="739.00" width="13.80" height="38.30" fill="#B0022D"/>
<rect x="94.35" y="741.25" width="13.80" height="36.05" fill="#2D4C7E"/>
<rect x="107.45" y="727.25" width="13.80" height="50.05" fill="#69AE40"/>
<rect x="120.55" y="718.30" width="13.10" height="59.00" fill="#532464"/>
<rect x="153.25" y="737.75" width="13.80" height="39.55" fill="#B0022D"/>
<rect x="166.35" y="739.40" width="13.80" height="37.90" fill="#2D4C7E"/>
<rect x="179.45" y="731.00" width="13.80" height="46.30" fill="#69AE40"/>
<rect x="192.55" y="719.40" width="13.10" height="57.90" fill="#532464"/>
<rect x="225.25" y="748.50" width="13.80" height="28.80" fill="#B0022D"/>
<rect x="238.35" y="751.50" width="13.80" height="25.80" fill="#2D4C7E"/>
<rect x="251.45" y="737.75" width="13.80" height="39.55" fill="#69AE40"/>
<rect x="264.55" y="719.75" width="13.10" height="57.55" fill="#532464"/>
<rect x="297.25" y="765.25" width="13.80" height="12.05" fill="#B0022D"/>
<rect x="310.35" y="763.10" width="13.80" height="14.20" fill="#2D4C7E"/>
<rect x="323.45" y="763.10" width="13.10" height="14.20" fill="#69AE40"/>
<rect x="369.25" y="760.25" width="13.80" height="17.05" fill="#B0022D"/>
<rect x="382.35" y="765.25" width="13.80" height="12.05" fill="#2D4C7E"/>
<rect x="395.45" y="764.00" width="13.10" height="13.30" fill="#69AE40"/>
<rect x="441.25" y="770.25" width="13.80" height="7.05" fill="#B0022D"/>
<rect x="454.35" y="767.25" width="13.80" height="10.05" fill="#2D4C7E"/>
<rect x="467.45" y="762.25" width="13.10" height="15.05" fill="#69AE40"/>
<line x1="87.80" y1="734.40" x2="87.80" y2="743.50" stroke="#000" stroke-width="1.5"/>
<line x1="85.40" y1="734.40" x2="90.20" y2="734.40" stroke="#000" stroke-width="1.8"/>
<line x1="85.40" y1="743.50" x2="90.20" y2="743.50" stroke="#000" stroke-width="1.8"/>
<line x1="100.90" y1="736.90" x2="100.90" y2="745.25" stroke="#000" stroke-width="1.5"/>
<line x1="98.50" y1="736.90" x2="103.30" y2="736.90" stroke="#000" stroke-width="1.8"/>
<line x1="98.50" y1="745.25" x2="103.30" y2="745.25" stroke="#000" stroke-width="1.8"/>
<line x1="114.00" y1="722.25" x2="114.00" y2="731.90" stroke="#000" stroke-width="1.5"/>
<line x1="111.60" y1="722.25" x2="116.40" y2="722.25" stroke="#000" stroke-width="1.8"/>
<line x1="111.60" y1="731.90" x2="116.40" y2="731.90" stroke="#000" stroke-width="1.8"/>
<line x1="127.10" y1="710.60" x2="127.10" y2="725.40" stroke="#000" stroke-width="1.5"/>
<line x1="124.70" y1="710.60" x2="129.50" y2="710.60" stroke="#000" stroke-width="1.8"/>
<line x1="124.70" y1="725.40" x2="129.50" y2="725.40" stroke="#000" stroke-width="1.8"/>
<line x1="159.80" y1="726.50" x2="159.80" y2="747.50" stroke="#000" stroke-width="1.5"/>
<line x1="157.40" y1="726.50" x2="162.20" y2="726.50" stroke="#000" stroke-width="1.8"/>
<line x1="157.40" y1="747.50" x2="162.20" y2="747.50" stroke="#000" stroke-width="1.8"/>
<line x1="172.90" y1="728.50" x2="172.90" y2="748.50" stroke="#000" stroke-width="1.5"/>
<line x1="170.50" y1="728.50" x2="175.30" y2="728.50" stroke="#000" stroke-width="1.8"/>
<line x1="170.50" y1="748.50" x2="175.30" y2="748.50" stroke="#000" stroke-width="1.8"/>
<line x1="186.00" y1="720.25" x2="186.00" y2="741.25" stroke="#000" stroke-width="1.5"/>
<line x1="183.60" y1="720.25" x2="188.40" y2="720.25" stroke="#000" stroke-width="1.8"/>
<line x1="183.60" y1="741.25" x2="188.40" y2="741.25" stroke="#000" stroke-width="1.8"/>
<line x1="199.10" y1="705.25" x2="199.10" y2="732.25" stroke="#000" stroke-width="1.5"/>
<line x1="196.70" y1="705.25" x2="201.50" y2="705.25" stroke="#000" stroke-width="1.8"/>
<line x1="196.70" y1="732.25" x2="201.50" y2="732.25" stroke="#000" stroke-width="1.8"/>
<line x1="231.80" y1="732.75" x2="231.80" y2="760.25" stroke="#000" stroke-width="1.5"/>
<line x1="229.40" y1="732.75" x2="234.20" y2="732.75" stroke="#000" stroke-width="1.8"/>
<line x1="229.40" y1="760.25" x2="234.20" y2="760.25" stroke="#000" stroke-width="1.8"/>
<line x1="244.90" y1="738.75" x2="244.90" y2="761.00" stroke="#000" stroke-width="1.5"/>
<line x1="242.50" y1="738.75" x2="247.30" y2="738.75" stroke="#000" stroke-width="1.8"/>
<line x1="242.50" y1="761.00" x2="247.30" y2="761.00" stroke="#000" stroke-width="1.8"/>
<line x1="258.00" y1="725.00" x2="258.00" y2="749.00" stroke="#000" stroke-width="1.5"/>
<line x1="255.60" y1="725.00" x2="260.40" y2="725.00" stroke="#000" stroke-width="1.8"/>
<line x1="255.60" y1="749.00" x2="260.40" y2="749.00" stroke="#000" stroke-width="1.8"/>
<line x1="271.10" y1="701.25" x2="271.10" y2="737.25" stroke="#000" stroke-width="1.5"/>
<line x1="268.70" y1="701.25" x2="273.50" y2="701.25" stroke="#000" stroke-width="1.8"/>
<line x1="268.70" y1="737.25" x2="273.50" y2="737.25" stroke="#000" stroke-width="1.8"/>
<line x1="303.80" y1="760.60" x2="303.80" y2="768.10" stroke="#000" stroke-width="1.5"/>
<line x1="301.40" y1="760.60" x2="306.20" y2="760.60" stroke="#000" stroke-width="1.8"/>
<line x1="301.40" y1="768.10" x2="306.20" y2="768.10" stroke="#000" stroke-width="1.8"/>
<line x1="316.90" y1="759.00" x2="316.90" y2="766.50" stroke="#000" stroke-width="1.5"/>
<line x1="314.50" y1="759.00" x2="319.30" y2="759.00" stroke="#000" stroke-width="1.8"/>
<line x1="314.50" y1="766.50" x2="319.30" y2="766.50" stroke="#000" stroke-width="1.8"/>
<line x1="330.00" y1="756.00" x2="330.00" y2="768.50" stroke="#000" stroke-width="1.5"/>
<line x1="327.60" y1="756.00" x2="332.40" y2="756.00" stroke="#000" stroke-width="1.8"/>
<line x1="327.60" y1="768.50" x2="332.40" y2="768.50" stroke="#000" stroke-width="1.8"/>
<line x1="375.80" y1="748.10" x2="375.80" y2="768.10" stroke="#000" stroke-width="1.5"/>
<line x1="373.40" y1="748.10" x2="378.20" y2="748.10" stroke="#000" stroke-width="1.8"/>
<line x1="373.40" y1="768.10" x2="378.20" y2="768.10" stroke="#000" stroke-width="1.8"/>
<line x1="388.90" y1="755.25" x2="388.90" y2="771.25" stroke="#000" stroke-width="1.5"/>
<line x1="386.50" y1="755.25" x2="391.30" y2="755.25" stroke="#000" stroke-width="1.8"/>
<line x1="386.50" y1="771.25" x2="391.30" y2="771.25" stroke="#000" stroke-width="1.8"/>
<line x1="402.00" y1="746.50" x2="402.00" y2="773.10" stroke="#000" stroke-width="1.5"/>
<line x1="399.60" y1="746.50" x2="404.40" y2="746.50" stroke="#000" stroke-width="1.8"/>
<line x1="399.60" y1="773.10" x2="404.40" y2="773.10" stroke="#000" stroke-width="1.8"/>
<line x1="447.80" y1="756.00" x2="447.80" y2="777.00" stroke="#000" stroke-width="1.5"/>
<line x1="445.40" y1="756.00" x2="450.20" y2="756.00" stroke="#000" stroke-width="1.8"/>
<line x1="445.40" y1="777.00" x2="450.20" y2="777.00" stroke="#000" stroke-width="1.8"/>
<line x1="460.90" y1="755.25" x2="460.90" y2="774.75" stroke="#000" stroke-width="1.5"/>
<line x1="458.50" y1="755.25" x2="463.30" y2="755.25" stroke="#000" stroke-width="1.8"/>
<line x1="458.50" y1="774.75" x2="463.30" y2="774.75" stroke="#000" stroke-width="1.8"/>
<line x1="474.00" y1="749.00" x2="474.00" y2="770.60" stroke="#000" stroke-width="1.5"/>
<line x1="471.60" y1="749.00" x2="476.40" y2="749.00" stroke="#000" stroke-width="1.8"/>
<line x1="471.60" y1="770.60" x2="476.40" y2="770.60" stroke="#000" stroke-width="1.8"/>
<line x1="72.40" y1="589.80" x2="72.40" y2="781.50" stroke="#000" stroke-width="1.8"/>
<line x1="71.50" y1="777.30" x2="508.00" y2="777.30" stroke="#000" stroke-width="1.8"/>
<line x1="67.80" y1="777.30" x2="72.40" y2="777.30" stroke="#000" stroke-width="1.5"/>
<text transform="translate(45.67,781.05) scale(1.150,1)" font-size="10.5" font-weight="normal" font-style="normal" fill="#161616" stroke="#161616" stroke-width="0.217">0%</text>
<line x1="67.80" y1="759.03" x2="72.40" y2="759.03" stroke="#000" stroke-width="1.5"/>
<text transform="translate(38.97,762.78) scale(1.150,1)" font-size="10.5" font-weight="normal" font-style="normal" fill="#161616" stroke="#161616" stroke-width="0.217">10%</text>
<line x1="67.80" y1="740.76" x2="72.40" y2="740.76" stroke="#000" stroke-width="1.5"/>
<text transform="translate(38.97,744.51) scale(1.150,1)" font-size="10.5" font-weight="normal" font-style="normal" fill="#161616" stroke="#161616" stroke-width="0.217">20%</text>
<line x1="67.80" y1="722.49" x2="72.40" y2="722.49" stroke="#000" stroke-width="1.5"/>
<text transform="translate(38.97,726.24) scale(1.150,1)" font-size="10.5" font-weight="normal" font-style="normal" fill="#161616" stroke="#161616" stroke-width="0.217">30%</text>
<line x1="67.80" y1="704.22" x2="72.40" y2="704.22" stroke="#000" stroke-width="1.5"/>
<text transform="translate(38.97,707.97) scale(1.150,1)" font-size="10.5" font-weight="normal" font-style="normal" fill="#161616" stroke="#161616" stroke-width="0.217">40%</text>
<line x1="67.80" y1="685.95" x2="72.40" y2="685.95" stroke="#000" stroke-width="1.5"/>
<text transform="translate(38.97,689.70) scale(1.150,1)" font-size="10.5" font-weight="normal" font-style="normal" fill="#161616" stroke="#161616" stroke-width="0.217">50%</text>
<line x1="67.80" y1="667.68" x2="72.40" y2="667.68" stroke="#000" stroke-width="1.5"/>
<text transform="translate(38.97,671.43) scale(1.150,1)" font-size="10.5" font-weight="normal" font-style="normal" fill="#161616" stroke="#161616" stroke-width="0.217">60%</text>
<line x1="67.80" y1="649.41" x2="72.40" y2="649.41" stroke="#000" stroke-width="1.5"/>
<text transform="translate(38.97,653.16) scale(1.150,1)" font-size="10.5" font-weight="normal" font-style="normal" fill="#161616" stroke="#161616" stroke-width="0.217">70%</text>
<line x1="67.80" y1="631.14" x2="72.40" y2="631.14" stroke="#000" stroke-width="1.5"/>
<text transform="translate(38.97,634.89) scale(1.150,1)" font-size="10.5" font-weight="normal" font-style="normal" fill="#161616" stroke="#161616" stroke-width="0.217">80%</text>
<line x1="67.80" y1="612.87" x2="72.40" y2="612.87" stroke="#000" stroke-width="1.5"/>
<text transform="translate(38.97,616.62) scale(1.150,1)" font-size="10.5" font-weight="normal" font-style="normal" fill="#161616" stroke="#161616" stroke-width="0.217">90%</text>
<line x1="67.80" y1="594.60" x2="72.40" y2="594.60" stroke="#000" stroke-width="1.5"/>
<text transform="translate(32.21,598.35) scale(1.150,1)" font-size="10.5" font-weight="normal" font-style="normal" fill="#161616" stroke="#161616" stroke-width="0.217">100%</text>
<line x1="144.28" y1="777.30" x2="144.28" y2="781.50" stroke="#000" stroke-width="1.5"/>
<line x1="216.16" y1="777.30" x2="216.16" y2="781.50" stroke="#000" stroke-width="1.5"/>
<line x1="288.04" y1="777.30" x2="288.04" y2="781.50" stroke="#000" stroke-width="1.5"/>
<line x1="359.92" y1="777.30" x2="359.92" y2="781.50" stroke="#000" stroke-width="1.5"/>
<line x1="431.80" y1="777.30" x2="431.80" y2="781.50" stroke="#000" stroke-width="1.5"/>
<line x1="503.68" y1="777.30" x2="503.68" y2="781.50" stroke="#000" stroke-width="1.5"/>
<text transform="translate(23.3,683.60) rotate(-90) scale(0.63,1)" font-size="13.2" text-anchor="middle" fill="#161616" stroke="#161616" stroke-width="0.4">RSR</text>
<text transform="translate(92.62,795.90) scale(1.163,1)" font-size="10.5" font-weight="normal" font-style="normal" fill="#161616" stroke="#161616" stroke-width="0.215">NHW</text>
<text transform="translate(165.69,795.90) scale(1.207,1)" font-size="10.5" font-weight="normal" font-style="normal" fill="#161616" stroke="#161616" stroke-width="0.207">NHB</text>
<text transform="translate(225.97,795.90) scale(1.104,1)" font-size="10.5" font-weight="normal" font-style="normal" fill="#161616" stroke="#161616" stroke-width="0.227">Hispanics</text>
<text transform="translate(308.02,795.90) scale(1.167,1)" font-size="10.5" font-weight="normal" font-style="normal" fill="#161616" stroke="#161616" stroke-width="0.214">NHW</text>
<text transform="translate(381.80,795.90) scale(1.188,1)" font-size="10.5" font-weight="normal" font-style="normal" fill="#161616" stroke="#161616" stroke-width="0.210">NHB</text>
<text transform="translate(441.17,795.90) scale(1.101,1)" font-size="10.5" font-weight="normal" font-style="normal" fill="#161616" stroke="#161616" stroke-width="0.227">Hispanics</text>
<path d="M79,798.70 V809.90 H277.1 V798.70" fill="none" stroke="#000" stroke-width="1.7" stroke-linejoin="round"/>
<path d="M296.5,798.70 V809.90 H491.6 V798.70" fill="none" stroke="#000" stroke-width="1.7" stroke-linejoin="round"/>
<text transform="translate(160.08,824.30) scale(1.067,1)" font-size="10.5" font-weight="normal" font-style="italic" fill="#161616" stroke="#161616" stroke-width="0.234">5 years</text>
<text transform="translate(373.82,824.40) scale(1.060,1)" font-size="10.5" font-weight="normal" font-style="italic" fill="#161616" stroke="#161616" stroke-width="0.236">10 years</text>
<text transform="translate(85.22,683.25) scale(1.071,1)" font-size="10.3" font-weight="normal" font-style="normal" fill="#161616" stroke="#161616" stroke-width="0.233">P&lt;0.001</text>
<path d="M84.70,695.05 V690.30 H129.20 V695.05" fill="none" stroke="#000" stroke-width="1.75" stroke-linejoin="round"/>
<text transform="translate(160.98,683.25) scale(1.118,1)" font-size="10.3" font-weight="normal" font-style="normal" fill="#161616" stroke="#161616" stroke-width="0.224">P=0.02</text>
<path d="M156.95,695.05 V690.30 H201.55 V695.05" fill="none" stroke="#000" stroke-width="1.75" stroke-linejoin="round"/>
<text transform="translate(230.07,683.25) scale(1.125,1)" font-size="10.3" font-weight="normal" font-style="normal" fill="#161616" stroke="#161616" stroke-width="0.222">P=0.009</text>
<path d="M229.35,695.05 V690.30 H273.80 V695.05" fill="none" stroke="#000" stroke-width="1.75" stroke-linejoin="round"/>
<text transform="translate(297.90,727.75) scale(1.036,1)" font-size="10.3" font-weight="normal" font-style="normal" fill="#161616" stroke="#161616" stroke-width="0.241">P=n.s.</text>
<path d="M296.45,739.80 V735.10 H329.90 V739.80" fill="none" stroke="#000" stroke-width="1.75" stroke-linejoin="round"/>
<text transform="translate(369.89,727.75) scale(1.045,1)" font-size="10.3" font-weight="normal" font-style="normal" fill="#161616" stroke="#161616" stroke-width="0.239">P=n.s.</text>
<path d="M368.70,739.80 V735.10 H402.30 V739.80" fill="none" stroke="#000" stroke-width="1.75" stroke-linejoin="round"/>
<text transform="translate(442.90,727.75) scale(1.036,1)" font-size="10.3" font-weight="normal" font-style="normal" fill="#161616" stroke="#161616" stroke-width="0.241">P=n.s.</text>
<path d="M441.35,739.80 V735.10 H474.80 V739.80" fill="none" stroke="#000" stroke-width="1.75" stroke-linejoin="round"/>
</svg>
</body></html>
